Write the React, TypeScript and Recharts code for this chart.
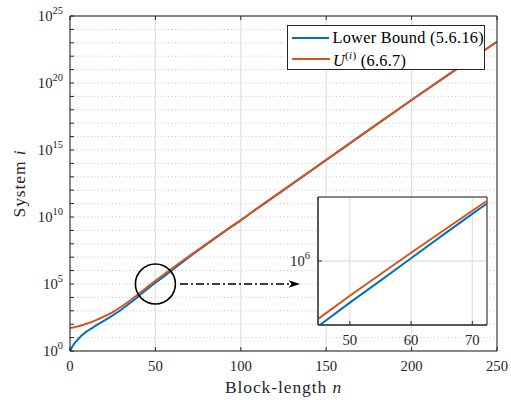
import React from "react";
import {
  LineChart,
  Line,
  XAxis,
  YAxis,
  CartesianGrid,
  ReferenceDot,
  ReferenceLine,
  ReferenceArea,
  Legend,
} from "recharts";

// block-length n and log10 of each bound
const blockLength = [0, 1, 2, 3, 4, 6, 8, 10, 12, 16, 20, 25, 30, 35, 40, 45, 50, 55, 60, 65, 70, 75, 80, 90, 100, 110, 125, 150, 175, 200, 225, 250];
const lowerBoundExp = [0, 0.25, 0.45, 0.63, 0.78, 1.05, 1.28, 1.48, 1.64, 1.97, 2.27, 2.66, 3.08, 3.56, 4.07, 4.59, 5.09, 5.57, 6.06, 6.55, 7.03, 7.5, 7.96, 8.87, 9.75, 10.67, 12.01, 14.25, 16.5, 18.73, 20.92, 23.08];
const upperBoundExp = [1.72, 1.74, 1.76, 1.79, 1.82, 1.89, 1.97, 2.05, 2.14, 2.34, 2.58, 2.9, 3.3, 3.75, 4.24, 4.75, 5.24, 5.71, 6.18, 6.64, 7.1, 7.55, 8.0, 8.9, 9.77, 10.68, 12.02, 14.26, 16.5, 18.73, 20.92, 23.08];

const xTicks = [0, 50, 100, 150, 200, 250];
const decadeExp = [0, 1, 2, 3, 4, 5, 6, 7, 8, 9, 10, 11, 12, 13, 14, 15, 16, 17, 18, 19, 20, 21, 22, 23, 24, 25];
const majorExp = [0, 5, 10, 15, 20, 25];

const insetXDomain = [44.8, 72.4];
const insetYExp = [4.6, 7.4];
const insetXTicks = [50, 60, 70];
const insetYTicks = [6];

// zoom marker at (50, 1e5) and arrow towards the inset
const zoomCenter = { n: 50, exp: 5 };
const arrowFrom = 64.4;
const arrowTo = 134.7;

const BLUE = "#0072BD";
const ORANGE = "#D95319";
const AXIS = "#262626";
const FONT = '"Liberation Serif", "Times New Roman", serif';

const rows = blockLength.map((n, i) => ({
  n,
  lower: Math.pow(10, lowerBoundExp[i]),
  upper: Math.pow(10, upperBoundExp[i]),
}));

const decades = decadeExp.map((e) => Math.pow(10, e));
const majors = majorExp.map((e) => Math.pow(10, e));

function PowerLabel({ x, y, exp }: { x: number; y: number; exp: number }) {
  return (
    <text x={x} y={y + 5} textAnchor="end" fill={AXIS} fontFamily={FONT} fontSize={14.7}>
      <tspan>10</tspan>
      <tspan dy={-7.5} fontSize={10.5}>
        {exp}
      </tspan>
    </text>
  );
}

function LeftTick(props: any) {
  const { x, y, payload } = props;
  const exp = Math.round(Math.log10(payload.value));
  const show = exp % 5 === 0;
  return (
    <g>
      <line x1={x} x2={x + 4} y1={y} y2={y} stroke={AXIS} strokeWidth={1} />
      {show && <PowerLabel x={x - 7} y={y} exp={exp} />}
    </g>
  );
}

function RightTick(props: any) {
  const { x, y } = props;
  return <line x1={x} x2={x - 4} y1={y} y2={y} stroke={AXIS} strokeWidth={1} />;
}

function BottomTick(props: any) {
  const { x, y, payload } = props;
  return (
    <g>
      <line x1={x} x2={x} y1={y} y2={y - 4} stroke={AXIS} strokeWidth={1} />
      <text x={x} y={y + 19.7} textAnchor="middle" fill={AXIS} fontFamily={FONT} fontSize={14.7}>
        {payload.value}
      </text>
    </g>
  );
}

function TopTick(props: any) {
  const { x, y } = props;
  return <line x1={x} x2={x} y1={y} y2={y + 4} stroke={AXIS} strokeWidth={1} />;
}

function XLabel(props: any) {
  const vb = props.viewBox;
  return (
    <text
      x={vb.x + vb.width / 2}
      y={vb.y + 42.3}
      textAnchor="middle"
      fill={AXIS}
      fontFamily={FONT}
      fontSize={17.5}
      letterSpacing={0.9}
    >
      Block-length <tspan fontStyle="italic">n</tspan>
    </text>
  );
}

function YLabel(props: any) {
  const vb = props.viewBox;
  const cx = vb.x + 16.5;
  const cy = vb.y + vb.height / 2;
  return (
    <text
      transform={`translate(${cx}, ${cy}) rotate(-90)`}
      textAnchor="middle"
      fill={AXIS}
      fontFamily={FONT}
      fontSize={17.5}
      letterSpacing={0.9}
    >
      System <tspan fontStyle="italic">i</tspan>
    </text>
  );
}

function Arrow(props: any) {
  const { x1, y1, x2 } = props;
  const tip = x2;
  const base = tip - 11.5;
  return (
    <g>
      <line x1={x1} y1={y1} x2={base + 3} y2={y1} stroke="#000" strokeWidth={1.6} strokeDasharray="8 3 2 3" />
      <path
        d={`M ${tip} ${y1} L ${base} ${y1 - 3.8} L ${base + 3} ${y1} L ${base} ${y1 + 3.8} Z`}
        fill="#000"
      />
    </g>
  );
}

const legendLabels: Record<string, React.ReactNode> = {
  lower: <>Lower Bound (5.6.16)</>,
  upper: (
    <>
      <i>U</i>
      <sup style={{ fontSize: 11, position: "relative", top: -1 }}>
        (<i>i</i>)
      </sup>{" "}
      (6.6.7)
    </>
  ),
};

function LegendBox(props: any) {
  const payload = props.payload || [];
  return (
    <div
      style={{
        boxSizing: "border-box",
        width: 198,
        height: 45,
        border: `1px solid ${AXIS}`,
        background: "#fff",
        paddingTop: 2,
        fontFamily: FONT,
        fontSize: 16.3,
        color: "#000",
      }}
    >
      {payload.map((item: any) => (
        <div key={item.dataKey} style={{ display: "flex", alignItems: "center", height: 20.5, lineHeight: "20px" }}>
          <span
            style={{
              display: "inline-block",
              width: 38,
              height: 2,
              background: item.color,
              marginLeft: 4,
              marginRight: 3,
            }}
          />
          <span style={{ whiteSpace: "nowrap", letterSpacing: 0.3 }}>{legendLabels[item.dataKey]}</span>
        </div>
      ))}
    </div>
  );
}

function InsetLeftTick(props: any) {
  const { x, y, payload } = props;
  const exp = Math.round(Math.log10(payload.value));
  return (
    <g>
      <line x1={x} x2={x + 4} y1={y} y2={y} stroke={AXIS} strokeWidth={1} />
      <PowerLabel x={x - 8} y={y} exp={exp} />
    </g>
  );
}

export default function App() {
  return (
    <div style={{ position: "absolute", left: 0, top: 0, width: 511, height: 400, background: "#fff" }}>
      <LineChart width={511} height={400} data={rows} margin={{ top: 6, right: 4, bottom: 0, left: 8 }}>
        <CartesianGrid
          xAxisId="bottom"
          yAxisId="left"
          vertical={false}
          stroke="#c4c4c4"
          strokeDasharray="1 2.5"
        />
        <CartesianGrid xAxisId="bottom" yAxisId="major" stroke="#e2e2e2" strokeWidth={1.3} />
        <XAxis
          xAxisId="bottom"
          dataKey="n"
          type="number"
          domain={[0, 250]}
          ticks={xTicks}
          interval={0}
          height={49}
          tickSize={0}
          tickMargin={0}
          tickLine={false}
          axisLine={{ stroke: AXIS }}
          tick={<BottomTick />}
          label={<XLabel />}
        />
        <XAxis
          xAxisId="top"
          orientation="top"
          dataKey="n"
          type="number"
          domain={[0, 250]}
          ticks={xTicks}
          interval={0}
          height={10}
          tickSize={0}
          tickMargin={0}
          tickLine={false}
          axisLine={{ stroke: AXIS }}
          tick={<TopTick />}
        />
        <YAxis
          yAxisId="left"
          type="number"
          scale="log"
          domain={[1, 1e25]}
          ticks={decades}
          interval={0}
          width={62}
          tickSize={0}
          tickMargin={0}
          tickLine={false}
          axisLine={{ stroke: AXIS }}
          tick={<LeftTick />}
          label={<YLabel />}
        />
        <YAxis
          yAxisId="right"
          orientation="right"
          type="number"
          scale="log"
          domain={[1, 1e25]}
          ticks={decades}
          interval={0}
          width={10}
          tickSize={0}
          tickMargin={0}
          tickLine={false}
          axisLine={{ stroke: AXIS }}
          tick={<RightTick />}
        />
        <YAxis yAxisId="major" hide type="number" scale="log" domain={[1, 1e25]} ticks={majors} interval={0} />
        <Line
          xAxisId="bottom"
          yAxisId="left"
          dataKey="lower"
          type="monotone"
          stroke={BLUE}
          strokeWidth={2}
          dot={false}
          isAnimationActive={false}
        />
        <Line
          xAxisId="bottom"
          yAxisId="left"
          dataKey="upper"
          type="monotone"
          stroke={ORANGE}
          strokeWidth={2}
          dot={false}
          isAnimationActive={false}
        />
        <ReferenceDot
          xAxisId="bottom"
          yAxisId="left"
          x={zoomCenter.n}
          y={Math.pow(10, zoomCenter.exp)}
          r={20}
          fill="none"
          stroke="#000"
          strokeWidth={1.6}
        />
        <ReferenceLine
          xAxisId="bottom"
          yAxisId="left"
          segment={[
            { x: arrowFrom, y: Math.pow(10, zoomCenter.exp) },
            { x: arrowTo, y: Math.pow(10, zoomCenter.exp) },
          ]}
          shape={<Arrow />}
        />
        <Legend
          layout="horizontal"
          verticalAlign="middle"
          align="center"
          content={<LegendBox />}
          wrapperStyle={{ left: 287, top: 25, width: 198, height: 45 }}
        />
      </LineChart>

      <div style={{ position: "absolute", left: 270, top: 190 }}>
        <LineChart width={219} height={160} data={rows} margin={{ top: 7, right: 2, bottom: 0, left: 0 }}>
          <CartesianGrid fill="#fff" fillOpacity={1} stroke="#e2e2e2" strokeWidth={1.3} />
          <XAxis
            dataKey="n"
            type="number"
            domain={insetXDomain}
            allowDataOverflow
            ticks={insetXTicks}
            interval={0}
            height={25}
            tickSize={0}
            tickMargin={0}
            tickLine={false}
            axisLine={{ stroke: AXIS }}
            tick={<BottomTick />}
          />
          <YAxis
            type="number"
            scale="log"
            domain={[Math.pow(10, insetYExp[0]), Math.pow(10, insetYExp[1])]}
            allowDataOverflow
            ticks={insetYTicks.map((e) => Math.pow(10, e))}
            interval={0}
            width={48}
            tickSize={0}
            tickMargin={0}
            tickLine={false}
            axisLine={{ stroke: AXIS }}
            tick={<InsetLeftTick />}
          />
          <Line dataKey="lower" type="linear" stroke={BLUE} strokeWidth={2} dot={false} isAnimationActive={false} />
          <Line dataKey="upper" type="linear" stroke={ORANGE} strokeWidth={2} dot={false} isAnimationActive={false} />
          <ReferenceArea
            x1={insetXDomain[0]}
            x2={insetXDomain[1]}
            y1={Math.pow(10, insetYExp[0])}
            y2={Math.pow(10, insetYExp[1])}
            fill="none"
            stroke={AXIS}
            strokeWidth={1}
          />
        </LineChart>
      </div>
    </div>
  );
}
